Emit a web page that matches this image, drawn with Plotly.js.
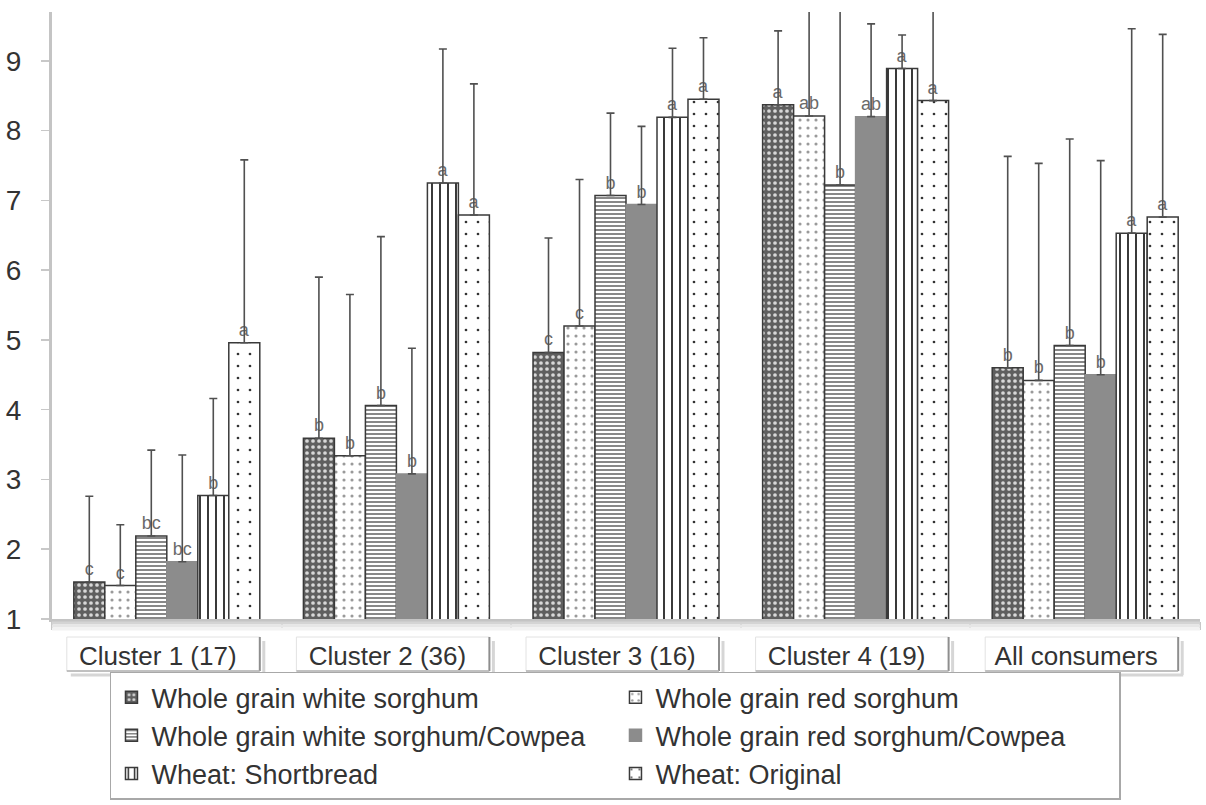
<!DOCTYPE html>
<html>
<head>
<meta charset="utf-8">
<script src="https://cdn.plot.ly/plotly-3.0.1.min.js"></script>
<style>
  html, body { margin: 0; padding: 0; background: #ffffff; }
  #chart { width: 1206px; height: 805px; }
</style>
</head>
<body>
<div id="chart"></div>
<script>
// ---------------- DATA ----------------
const categories = ['Cluster 1 (17)', 'Cluster 2 (36)', 'Cluster 3 (16)', 'Cluster 4 (19)', 'All consumers'];
const seriesNames = [
  'Whole grain white sorghum',
  'Whole grain red sorghum',
  'Whole grain white sorghum/Cowpea',
  'Whole grain red sorghum/Cowpea',
  'Wheat: Shortbread',
  'Wheat: Original'
];
const yTickValues = [1, 2, 3, 4, 5, 6, 7, 8, 9];

const whiteSorghumMean = [1.53, 3.59, 4.82, 8.37, 4.60];
const whiteSorghumSD = [1.23, 2.31, 1.64, 1.06, 3.03];
const whiteSorghumLetters = ['c', 'b', 'c', 'a', 'b'];

const redSorghumMean = [1.48, 3.34, 5.20, 8.21, 4.42];
const redSorghumSD = [0.87, 2.31, 2.10, 1.80, 3.11];
const redSorghumLetters = ['c', 'b', 'c', 'ab', 'b'];

const whiteCowpeaMean = [2.19, 4.06, 7.07, 7.22, 4.92];
const whiteCowpeaSD = [1.23, 2.42, 1.18, 2.60, 2.96];
const whiteCowpeaLetters = ['bc', 'b', 'b', 'b', 'b'];

const redCowpeaMean = [1.82, 3.08, 6.94, 8.20, 4.50];
const redCowpeaSD = [1.53, 1.80, 1.12, 1.33, 3.07];
const redCowpeaLetters = ['bc', 'b', 'b', 'ab', 'b'];

const shortbreadMean = [2.77, 7.25, 8.19, 8.89, 6.53];
const shortbreadSD = [1.39, 1.92, 0.99, 0.48, 2.93];
const shortbreadLetters = ['b', 'a', 'a', 'a', 'a'];

const originalMean = [4.96, 6.79, 8.45, 8.43, 6.76];
const originalSD = [2.62, 1.88, 0.88, 1.50, 2.62];
const originalLetters = ['a', 'a', 'a', 'a', 'a'];

// ---------------- STYLES ----------------
const FONT = 'Liberation Sans, Arial, Helvetica, sans-serif';
const outline = '#3a3a3a';
const styles = [
  { pattern: { shape: '.', bgcolor: '#5f5f5f', fgcolor: '#d8d8d8', size: 6, solidity: 0.3, fillmode: 'replace' }, color: '#5f5f5f', line: outline },
  { pattern: { shape: '.', bgcolor: '#ffffff', fgcolor: '#9a9a9a', size: 8, solidity: 0.12, fillmode: 'replace' }, color: '#ffffff', line: outline },
  { pattern: { shape: '-', bgcolor: '#ffffff', fgcolor: '#7a7a7a', size: 4, solidity: 0.45, fillmode: 'replace' }, color: '#ffffff', line: outline },
  { pattern: null, color: '#8c8c8c', line: '#8c8c8c' },
  { pattern: { shape: '|', bgcolor: '#ffffff', fgcolor: '#1e1e1e', size: 8, solidity: 0.22, fillmode: 'replace' }, color: '#ffffff', line: outline },
  { pattern: { shape: '.', bgcolor: '#ffffff', fgcolor: '#333333', size: 12, solidity: 0.04, fillmode: 'replace' }, color: '#ffffff', line: outline }
];

const means = [whiteSorghumMean, redSorghumMean, whiteCowpeaMean, redCowpeaMean, shortbreadMean, originalMean];
const sds = [whiteSorghumSD, redSorghumSD, whiteCowpeaSD, redCowpeaSD, shortbreadSD, originalSD];
const letters = [whiteSorghumLetters, redSorghumLetters, whiteCowpeaLetters, redCowpeaLetters, shortbreadLetters, originalLetters];

const traces = seriesNames.map((name, k) => {
  const st = styles[k];
  const marker = { color: st.color, line: { color: st.line, width: 1.5 } };
  if (st.pattern) marker.pattern = st.pattern;
  return {
    type: 'bar',
    name: name,
    x: categories,
    y: means[k],
    text: letters[k],
    textposition: 'outside',
    textfont: { family: FONT, size: 18, color: '#6a6a6a' },
    constraintext: 'none',
    marker: marker,
    error_y: {
      type: 'data',
      symmetric: false,
      array: sds[k],
      arrayminus: sds[k].map(() => 0),
      color: '#505050',
      thickness: 1.6,
      width: 4
    },
    hoverinfo: 'x+y+name'
  };
});

// soft shadow under the category axis
const shapes = [
  { type: 'line', xref: 'paper', x0: 0, x1: 1, yref: 'paper', ysizemode: 'pixel', yanchor: 0, y0: -4, y1: -4, line: { color: '#d4d4d4', width: 3 } },
  { type: 'line', xref: 'paper', x0: 0, x1: 1, yref: 'paper', ysizemode: 'pixel', yanchor: 0, y0: -7, y1: -7, line: { color: '#e6e6e6', width: 3 } },
  { type: 'line', xref: 'paper', x0: 0, x1: 1, yref: 'paper', ysizemode: 'pixel', yanchor: 0, y0: -10, y1: -10, line: { color: '#f2f2f2', width: 3 } }
];
// label "bevel" boxes beneath each category label
categories.forEach((c, i) => {
  const common = { xref: 'x', xsizemode: 'pixel', xanchor: i, yref: 'paper', ysizemode: 'pixel', yanchor: 0 };
  shapes.push(Object.assign({ type: 'rect', x0: -100, x1: 93, y0: -52, y1: -18, line: { color: '#e2e2e2', width: 1 }, fillcolor: 'rgba(0,0,0,0)', layer: 'below' }, common));
  shapes.push(Object.assign({ type: 'line', x0: -96, x1: 98, y0: -56, y1: -56, line: { color: '#d6d6d6', width: 3 } }, common));
  shapes.push(Object.assign({ type: 'line', x0: 97, x1: 97, y0: -22, y1: -56, line: { color: '#d6d6d6', width: 3 } }, common));
  shapes.push(Object.assign({ type: 'line', x0: 93, x1: 93, y0: -18, y1: -52, line: { color: '#8e8e8e', width: 2 } }, common));
  shapes.push(Object.assign({ type: 'line', x0: -100, x1: 93, y0: -52, y1: -52, line: { color: '#b0b0b0', width: 1.5 } }, common));
});

const layout = {
  width: 1206,
  height: 805,
  margin: { l: 52, r: 6, t: 12, b: 185, pad: 0 },
  paper_bgcolor: '#ffffff',
  plot_bgcolor: '#ffffff',
  font: { family: FONT, size: 26, color: '#333333' },
  barmode: 'group',
  bargap: 0.19,
  bargroupgap: 0,
  showlegend: true,
  xaxis: {
    type: 'category',
    showline: true,
    linecolor: '#c4c4c4',
    linewidth: 3,
    ticks: 'outside',
    tickson: 'boundaries',
    ticklen: 8,
    tickcolor: '#c8c8c8',
    tickwidth: 2,
    tickfont: { family: FONT, size: 26, color: '#333333' },
    ticklabelstandoff: 12,
    ticklabelshift: -9,
    showgrid: false,
    zeroline: false,
    fixedrange: true
  },
  yaxis: {
    range: [1, 9.7],
    tickvals: yTickValues,
    ticktext: yTickValues.map(String),
    showline: true,
    linecolor: '#c4c4c4',
    linewidth: 3,
    ticks: 'outside',
    ticklen: 8,
    tickcolor: '#c8c8c8',
    tickwidth: 1.5,
    tickfont: { family: FONT, size: 28, color: '#333333' },
    ticklabelstandoff: 14,
    showgrid: false,
    zeroline: false,
    fixedrange: true
  },
  legend: {
    orientation: 'h',
    x: 0.0505,
    xanchor: 'left',
    y: -0.085,
    yanchor: 'top',
    entrywidth: 459,
    entrywidthmode: 'pixels',
    traceorder: 'normal',
    bgcolor: '#ffffff',
    bordercolor: '#a8a8a8',
    borderwidth: 1.5,
    font: { family: FONT, size: 27, color: '#333333' },
    itemwidth: 30
  },
  shapes: shapes
};

Plotly.newPlot('chart', traces, layout, { displayModeBar: false, staticPlot: true });
</script>
</body>
</html>
